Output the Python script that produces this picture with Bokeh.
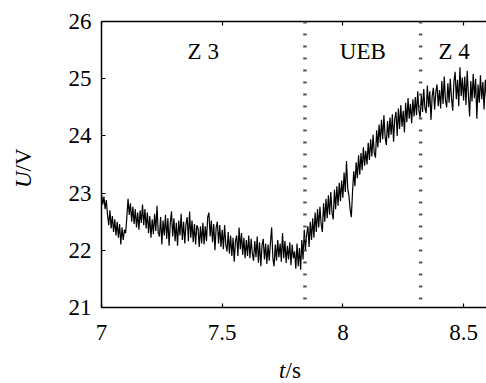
from math import pi
from bokeh.plotting import figure
from bokeh.models import ColumnDataSource, Span, Label, LinearAxis, FixedTicker, Range1d
from bokeh.core.properties import value
from bokeh.embed import file_html
from bokeh.resources import INLINE

# ---- data ----
t_start = 7.0
t_step = 0.005
voltage = [
    22.98, 22.80, 22.94, 22.72, 22.88, 22.62, 22.44, 22.70, 22.38, 22.60, 22.32, 22.54, 22.26, 22.50, 22.22, 22.46, 22.10, 22.40, 22.18, 22.36,
    22.30, 22.58, 22.90, 22.62, 22.82, 22.50, 22.76, 22.46, 22.72, 22.40, 22.66, 22.36, 22.70, 22.48, 22.80, 22.44, 22.72, 22.38, 22.66, 22.30,
    22.60, 22.22, 22.54, 22.28, 22.64, 22.34, 22.78, 22.30, 22.24, 22.58, 22.10, 22.52, 22.26, 22.62, 22.20, 22.56, 22.08, 22.48, 22.68, 22.24,
    22.56, 22.16, 22.48, 22.08, 22.52, 22.26, 22.64, 22.18, 22.50, 22.12, 22.46, 22.58, 22.16, 22.68, 22.22, 22.52, 22.14, 22.46, 22.10, 22.44,
    22.38, 22.06, 22.42, 22.12, 22.48, 22.10, 22.42, 22.16, 22.58, 22.66, 22.24, 22.52, 22.14, 22.46, 22.00, 22.40, 22.50, 22.12, 22.44, 22.06,
    22.36, 22.02, 22.44, 22.10, 21.98, 22.32, 21.94, 22.26, 21.90, 22.22, 21.80, 22.16, 22.26, 21.90, 22.40, 22.02, 22.30, 21.92, 22.22, 21.86,
    22.18, 21.90, 22.26, 21.86, 22.20, 21.94, 21.82, 22.16, 21.88, 22.24, 21.78, 22.14, 21.72, 22.08, 22.20, 21.84, 22.12, 21.76, 22.10, 21.82,
    22.14, 22.40, 21.86, 21.72, 22.10, 21.82, 22.18, 21.88, 22.12, 21.80, 22.30, 21.86, 22.16, 21.78, 22.08, 21.84, 22.14, 21.74, 22.10, 21.86,
    21.98, 21.68, 22.12, 21.72, 22.04, 21.66, 22.18, 21.84, 22.36, 22.00, 22.28, 22.42, 22.06, 22.50, 22.18, 22.56, 22.22, 22.66, 22.32, 22.72,
    22.40, 22.76, 22.46, 22.32, 22.82, 22.50, 22.90, 22.56, 22.96, 22.62, 23.02, 22.66, 22.54, 23.06, 22.72, 23.12, 22.78, 23.18, 22.86, 23.22,
    22.92, 23.36, 23.02, 23.56, 23.08, 22.96, 22.72, 22.58, 23.02, 23.38, 23.12, 23.54, 23.26, 23.66, 23.32, 23.70, 23.40, 23.80, 23.48, 23.74,
    23.50, 23.88, 23.58, 23.94, 23.64, 24.02, 23.70, 23.62, 24.10, 23.80, 24.20, 23.88, 24.28, 23.94, 24.36, 23.98, 23.84, 24.26, 23.96, 24.32,
    24.02, 24.38, 23.90, 24.30, 24.42, 24.00, 24.48, 24.12, 24.54, 24.16, 24.44, 24.06, 24.58, 24.24, 24.66, 24.30, 24.56, 24.22, 24.64, 24.34,
    24.68, 24.36, 24.78, 24.44, 24.32, 24.72, 24.42, 24.82, 24.48, 24.40, 24.88, 24.50, 24.78, 24.28, 24.70, 24.84, 24.46, 24.76, 24.90, 24.52,
    24.80, 24.48, 24.96, 24.56, 25.04, 24.62, 24.50, 24.92, 24.58, 25.00, 24.66, 24.44, 24.94, 25.12, 24.64, 24.98, 24.52, 25.20, 24.70, 25.02,
    24.62, 25.04, 24.54, 25.14, 24.72, 24.34, 24.96, 24.60, 25.08, 24.66, 25.00, 24.30, 24.90, 24.58, 25.06, 24.64, 24.94, 24.46, 24.98, 24.68,
    24.88,
]
time = [round(t_start + i * t_step, 3) for i in range(len(voltage))]

boundaries = [7.843, 8.322]
region_names = ["Z 3", "UEB", "Z 4"]
x_ticks = [7, 7.5, 8, 8.5]
y_ticks = [21, 22, 23, 24, 25, 26]
x_range = (7.0, 8.595)
y_range = (21.0, 26.0)

FONT = "'Liberation Serif', serif"
FS = "23px"

p = figure(width=486, height=383, output_backend="svg", toolbar_location=None,
           x_range=Range1d(*x_range), y_range=Range1d(*y_range),
           min_border_left=100, min_border_right=0, min_border_top=21, min_border_bottom=76)
p.outline_line_color = None
p.xgrid.visible = False
p.ygrid.visible = False
p.background_fill_color = "white"
p.border_fill_color = "white"

for ax in (p.xaxis[0], p.yaxis[0]):
    ax.major_tick_in = 4
    ax.major_tick_out = 0
    ax.minor_tick_line_color = None
    ax.axis_line_width = 1.5
    ax.major_tick_line_width = 1.2
    ax.axis_line_color = "black"
    ax.major_tick_line_color = "black"
    ax.major_label_text_font = FONT
    ax.major_label_text_font_size = FS
    ax.major_label_text_color = "black"
    ax.major_label_standoff = 10

p.xaxis[0].major_label_standoff = 17
p.xaxis[0].ticker = FixedTicker(ticks=x_ticks)
p.yaxis[0].ticker = FixedTicker(ticks=y_ticks)

# top frame line with inward ticks, no labels
top = LinearAxis(ticker=FixedTicker(ticks=x_ticks), major_tick_in=4, major_tick_out=0,
                 minor_tick_line_color=None, axis_line_width=1.5, major_tick_line_width=1.2,
                 major_label_text_font_size="0px", major_label_text_color=None,
                 major_label_standoff=0)
p.add_layout(top, "above")

# trace
src = ColumnDataSource(dict(t=time, u=voltage))
p.line("t", "u", source=src, line_color="black", line_width=1.2)

# region boundaries
for b in boundaries:
    p.add_layout(Span(location=b, dimension="height", line_color="#555555",
                      line_width=3.5, line_dash="2 10"))

edges = [x_range[0]] + boundaries + [8.6]
label_x = [(edges[i] + edges[i + 1]) / 2 for i in range(len(region_names))]
lsrc = ColumnDataSource(dict(x=label_x, y=[25.476] * len(region_names), txt=region_names))
p.text("x", "y", text="txt", source=lsrc, text_align="center", text_baseline="alphabetic",
       text_font=value(FONT), text_font_size=value(FS), text_color="black")

# axis labels (italic quantity symbol, upright unit), placed in canvas pixels in side panels
def lab(side, x, y, text, align, italic, angle=0.0, baseline="alphabetic"):
    p.add_layout(Label(x=x, y=y, x_units="canvas", y_units="canvas", text=text, angle=angle,
                       text_align=align, text_baseline=baseline, text_font=FONT,
                       text_font_style="italic" if italic else "normal",
                       text_font_size=FS, text_color="black"), side)

lab("left", 23, 171, "U", "right", True, angle=pi / 2, baseline="middle")
lab("left", 23, 171, "/V", "left", False, angle=pi / 2, baseline="middle")
lab("below", 285, 370, "t", "right", True)
lab("left", 285, 370, "/s", "left", False)

open("out.html", "w").write(file_html(p, INLINE))
